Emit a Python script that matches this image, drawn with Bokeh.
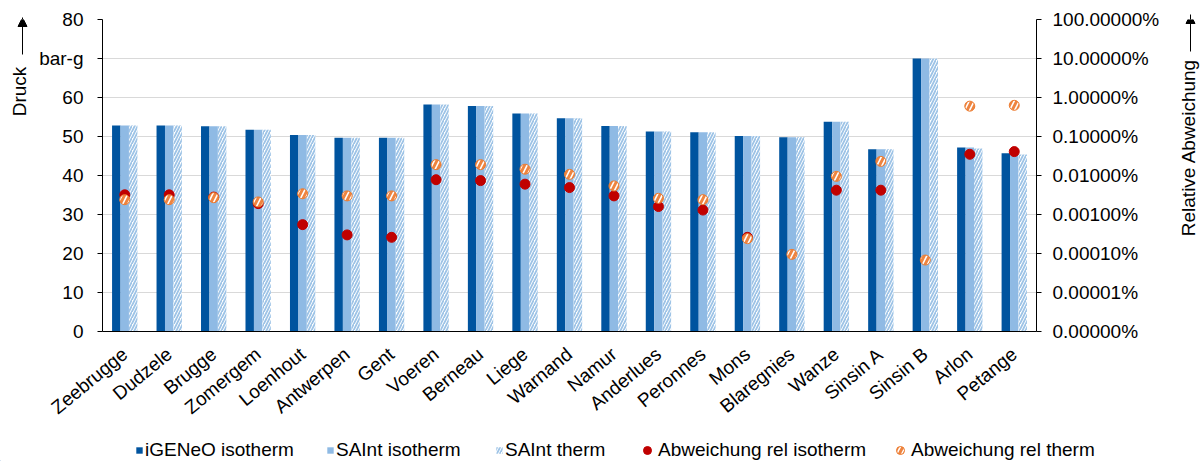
import math

from bokeh.plotting import figure
from bokeh.layouts import row, column
from bokeh.models import (FactorRange, Range1d, LogScale, LogAxis, FixedTicker,
                          CustomJSTickFormatter, Arrow, NormalHead,
                          Legend, LegendItem)
from bokeh.core.properties import value
from bokeh.transform import dodge
from bokeh.embed import file_html
from bokeh.resources import INLINE

# --- data -----------------------------------------------------------------
stations = ["Zeebrugge", "Dudzele", "Brugge", "Zomergem", "Loenhout", "Antwerpen",
            "Gent", "Voeren", "Berneau", "Liege", "Warnand", "Namur", "Anderlues",
            "Peronnes", "Mons", "Blaregnies", "Wanze", "Sinsin A", "Sinsin B",
            "Arlon", "Petange"]

# pressure in bar-g
igeneo_isotherm = [52.8, 52.8, 52.6, 51.7, 50.4, 49.7, 49.7, 58.2, 57.8, 55.9, 54.7,
                   52.7, 51.3, 51.1, 50.1, 49.8, 53.8, 46.7, 70.0, 47.2, 45.7]
saint_isotherm = [52.8, 52.8, 52.6, 51.7, 50.4, 49.7, 49.7, 58.2, 57.8, 55.9, 54.7,
                  52.7, 51.3, 51.1, 50.1, 49.8, 53.8, 46.7, 70.0, 47.2, 45.7]
saint_therm = [52.8, 52.8, 52.6, 51.7, 50.4, 49.7, 49.7, 58.2, 57.8, 55.9, 54.7,
               52.7, 51.3, 51.1, 50.1, 49.8, 53.8, 46.7, 70.0, 46.9, 45.4]

# relative deviation in percent (nan = no deviation, not shown on a log axis)
nan = float("nan")
dev_isotherm = [0.0032, 0.0032, 0.0028, 0.0019, 0.00055, 0.00030, 0.00026, 0.0078,
                0.0074, 0.0060, 0.0049, 0.0030, 0.0016, 0.0013, 0.00026, nan,
                0.0042, 0.0042, nan, 0.035, 0.041]
dev_therm = [0.0024, 0.0024, 0.0027, 0.0021, 0.0034, 0.0030, 0.0030, 0.019, 0.019,
             0.0145, 0.0107, 0.0054, 0.0026, 0.0024, 0.00024, 0.000095, 0.0095,
             0.023, 0.000068, 0.60, 0.63]

left_ticks = [0, 10, 20, 30, 40, 50, 60, 70, 80]
left_tick_overrides = {70: "bar-g"}
right_ticks = [1e-6, 1e-5, 1e-4, 1e-3, 1e-2, 1e-1, 1, 10, 100]

series_labels = ["iGENeO isotherm", "SAInt isotherm", "SAInt therm",
                 "Abweichung rel isotherm", "Abweichung rel therm"]

# --- styling ----------------------------------------------------------------
FONT = "Liberation Sans"
FS = "19px"
DARK = "#00549F"
LIGHT = "#8FBAE4"
HATCH = "#9DC3E6"
RED = "#C00000"
ORANGE = "#ED7D31"
ORANGE_FILL = "#EE8440"

bar_styles = [dict(fill_color=DARK, line_color=None),
              dict(fill_color=LIGHT, line_color=None),
              dict(fill_color="white", line_color=None, hatch_pattern="/",
                   hatch_color=HATCH, hatch_weight=1.8, hatch_scale=6)]
dot_styles = [dict(marker="circle", size=10, fill_color=RED, line_color=RED),
              dict(marker="circle", size=10, fill_color=ORANGE_FILL,
                   line_color=ORANGE, line_width=1, hatch_pattern="/",
                   hatch_color="white", hatch_weight=1.6, hatch_scale=10)]

MAIN_H = 429          # height of the chart row
LEG_H = 461 - MAIN_H  # height of the legend strip
LEFT_W, RIGHT_W = 36, 33
TOP, FRAME_H = 19, 312
BOTTOM = MAIN_H - TOP - FRAME_H

source = dict(station=stations, igeneo=igeneo_isotherm, s_iso=saint_isotherm,
              s_therm=saint_therm, d_iso=dev_isotherm, d_therm=dev_therm)

# --- main chart --------------------------------------------------------------
p = figure(x_range=FactorRange(*stations), y_range=Range1d(0, 80),
           width=1203 - LEFT_W - RIGHT_W, height=MAIN_H, output_backend="svg",
           toolbar_location=None, min_border_left=65, min_border_right=134,
           min_border_top=TOP, min_border_bottom=BOTTOM)
p.outline_line_color = None
p.background_fill_color = "white"
p.border_fill_color = "white"

p.extra_y_ranges = {"rel": Range1d(1e-6, 100)}
p.extra_y_scales = {"rel": LogScale()}

bw = 0.19
for col, off, st in zip(["igeneo", "s_iso", "s_therm"], [-bw, 0, bw], bar_styles):
    p.vbar(x=dodge("station", off, range=p.x_range), top=col, width=bw,
           source=source, **st)
for col, st in zip(["d_iso", "d_therm"], dot_styles):
    p.scatter(x="station", y=col, source=source, y_range_name="rel", **st)

# left axis (pressure)
yax = p.yaxis[0]
yax.ticker = FixedTicker(ticks=left_ticks)
yax.major_label_overrides = left_tick_overrides
yax.major_label_text_font = FONT
yax.major_label_text_font_size = FS
yax.major_label_text_color = "black"
yax.axis_line_color = "black"
yax.major_tick_line_color = "black"
yax.major_tick_in = 0
yax.major_tick_out = 5
yax.minor_tick_line_color = None
yax.major_label_standoff = 14

p.ygrid.ticker = FixedTicker(ticks=left_ticks)
p.ygrid.grid_line_color = "#D9D9D9"
p.ygrid.grid_line_width = 1
p.xgrid.grid_line_color = None

# right axis (relative deviation)
rax = LogAxis(y_range_name="rel", ticker=FixedTicker(ticks=right_ticks),
              formatter=CustomJSTickFormatter(code="return tick.toFixed(5) + '%';"))
rax.major_label_text_font = FONT
rax.major_label_text_font_size = FS
rax.major_label_text_color = "black"
rax.axis_line_color = "black"
rax.major_tick_line_color = "black"
rax.major_tick_in = 0
rax.major_tick_out = 5
rax.minor_tick_line_color = None
rax.major_label_standoff = 11
p.add_layout(rax, "right")

# category axis
xax = p.xaxis[0]
xax.major_label_orientation = 0.69
xax.major_label_text_font = FONT
xax.major_label_text_font_size = FS
xax.major_label_text_color = "black"
xax.axis_line_color = "black"
xax.major_tick_line_color = None
xax.major_tick_out = 0
xax.major_label_standoff = 20


def strip(width, height, top=0, bottom=0):
    """Blank strip whose data units are canvas pixels (y up from its bottom)."""
    f = figure(width=width, height=height, x_range=Range1d(0, width),
               y_range=Range1d(bottom, height - top), output_backend="svg",
               toolbar_location=None, x_axis_location=None, y_axis_location=None,
               min_border_left=0, min_border_right=0,
               min_border_top=top, min_border_bottom=bottom)
    f.outline_line_color = None
    f.grid.visible = False
    f.background_fill_color = "white"
    f.border_fill_color = "white"
    return f


def title_with_arrow(f, text, tx, ty, ax, ay0, ay1):
    f.text(x=[tx], y=[ty], text=[text], angle=math.pi / 2, text_align="center",
           text_baseline="middle", text_font=value(FONT), text_font_size=FS,
           text_color="black")
    f.add_layout(Arrow(x_start=ax, y_start=ay0, x_end=ax, y_end=ay1, line_width=1,
                       line_color="black",
                       end=NormalHead(size=9, fill_color="black", line_color="black")))


# side strips share the chart's frame rows, so their data y equals pixels from the bottom
left = strip(LEFT_W, MAIN_H, TOP, BOTTOM)
title_with_arrow(left, "Druck", 19, MAIN_H - 91, 22, MAIN_H - 54, MAIN_H - 17)

right = strip(RIGHT_W, MAIN_H, TOP, BOTTOM)
title_with_arrow(right, "Relative Abweichung", 18, MAIN_H - 147, 20,
                 MAIN_H - 51, MAIN_H - 14)

# --- legend strip ------------------------------------------------------------
leg = strip(1203, LEG_H)
leg_items = []
for st in bar_styles:
    # one key sample, parked left of the visible strip
    leg_items.append(leg.vbar(x=[-100], top=[1], width=1, **st))
for st in dot_styles:
    leg_items.append(leg.scatter(x=[-100], y=[1], **st))

leg_x = [135, 326, 495, 637, 890]
for i, (r, lab, lx) in enumerate(zip(leg_items, series_labels, leg_x)):
    is_dot = i >= 3
    lg = Legend(items=[LegendItem(label=lab, renderers=[r])], location=(lx, 0),
                label_text_font=FONT, label_text_font_size=FS,
                label_text_color="black",
                glyph_width=20 if is_dot else 8, glyph_height=20 if is_dot else 8,
                label_standoff=1 if is_dot else 2, label_height=20,
                padding=0, margin=0, border_line_color=None,
                background_fill_alpha=0)
    leg.add_layout(lg)

layout = column(row(left, p, right), leg)

open("out.html", "w").write(file_html(layout, INLINE))
